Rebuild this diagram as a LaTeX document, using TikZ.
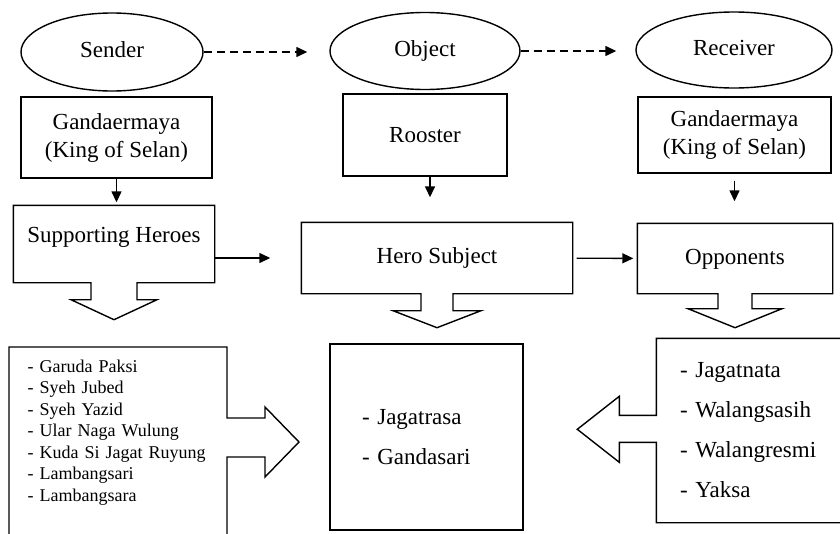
\documentclass[tikz,border=0pt]{standalone}
\usepackage{fontspec}
\setmainfont{Liberation Serif}
\usetikzlibrary{shapes.geometric, arrows.meta, positioning}

\begin{document}
\begin{tikzpicture}[x=1pt, y=-1pt, line width=1.4pt,
        rol/.style={ellipse, draw, inner sep=0pt, text height=16pt, text depth=5pt, font=\fontsize{23}{28}\selectfont},
        cuadro/.style={rectangle, draw, align=center, inner sep=0pt, font=\fontsize{23}{28}\selectfont},
        hueco/.style={rectangle, inner sep=0pt, text height=16pt, text depth=5pt, font=\fontsize{23}{28}\selectfont},
        lista/.style={rectangle, align=left, font=\fontsize{23}{40}\selectfont},
        flecha/.style={-{Triangle[length=11pt, width=10pt]}, line width=1.4pt}]
    \useasboundingbox (0,0) rectangle (840,533);
    \clip (0,0) rectangle (840,533);
    % actants
    \node[rol, minimum width=182pt, minimum height=78pt] (S) at (112,52) {Sender};
    \node[rol, minimum width=190pt, minimum height=77pt] (O) at (425,51) {Object};
    \node[rol, minimum width=196pt, minimum height=76pt] (R) at (734,50) {Receiver};
    \draw[flecha, dash pattern=on 8pt off 5pt, shorten >=22pt] (S.east) -- (S.east -| O.west);
    \draw[flecha, dash pattern=on 8pt off 5pt, shorten >=19pt] (O.east) -- (O.east -| R.west);
    % second row
    \node[cuadro, minimum width=191pt, minimum height=81pt] (K1) at (116.5,137.5) {Gandaermaya\\(King of Selan)};
    \node[cuadro, minimum width=164pt, minimum height=82pt] (RO) at (425,135) {Rooster};
    \node[cuadro, minimum width=193pt, minimum height=76pt] (K2) at (734.5,135) {Gandaermaya\\(King of Selan)};
    % third row
    \node[hueco, minimum width=200pt, minimum height=76pt, text depth=19pt] (SH) at (114,244) {Supporting Heroes};
    \node[hueco, minimum width=270pt, minimum height=70pt] (HS) at (437,258) {Hero Subject};
    \node[hueco, minimum width=194pt, minimum height=69pt] (OP) at (735,258.5) {Opponents};
    \draw (SH.south west) |- (SH.north east) -- (SH.south east) -- ([xshift=23pt]SH.south)
        -- ++(0,17) -- ++(20,0) -- ++(-43,20) -- ++(-43,-20) -- ++(20,0) -- ++(0,-17) -- cycle;
    \draw (HS.south west) |- (HS.north east) -- (HS.south east) -- ([xshift=16pt]HS.south)
        -- ++(0,17) -- ++(28,0) -- ++(-44,17) -- ++(-44,-17) -- ++(28,0) -- ++(0,-17) -- cycle;
    \draw (OP.south west) |- (OP.north east) -- (OP.south east) -- ([xshift=17pt]OP.south)
        -- ++(0,15) -- ++(30,0) -- ++(-47,19) -- ++(-47,-19) -- ++(30,0) -- ++(0,-15) -- cycle;
    \draw[flecha, shorten >=3pt] (K1.south) -- (K1.south |- SH.north);
    \draw[flecha, shorten >=25pt] ([xshift=5pt]RO.south) -- ([xshift=5pt]RO.south |- HS.north);
    \draw[flecha, shorten <=7pt, shorten >=22pt] (K2.south) -- (K2.south |- OP.north);
    \draw[flecha, shorten >=31pt] (SH.east |- HS) -- (HS);
    \draw[flecha, shorten <=4pt, shorten >=4pt] (HS) -- (OP);
    % lists
    \node[lista, anchor=north west, inner xsep=18pt, inner ysep=12pt, text width=190pt,
        font=\fontsize{18}{21.5}\selectfont] (L1) at (9,347)
        {- Garuda Paksi\\- Syeh Jubed\\- Syeh Yazid\\- Ular Naga Wulung\\- Kuda Si Jagat Ruyung\\- Lambangsari\\- Lambangsara};
    \draw (L1.north west) ++(0,220) -- (L1.north west) -- ++(218,0) -- ++(0,71) -- ++(38,0) -- ++(0,-11)
        -- ++(34,35) -- ++(-34,35) -- ++(0,-20) -- ++(-38,0) -- ++(0,120);
    \node[lista, draw, minimum width=193pt, minimum height=186pt, inner xsep=32pt, text width=129pt] (L2)
        at (426.5,437) {- Jagatrasa\\- Gandasari};
    \node[lista, minimum width=223pt, minimum height=183pt, inner xsep=23pt, text width=177pt] (L3)
        at (768.5,430.5) {- Jagatnata\\- Walangsasih\\- Walangresmi\\- Yaksa};
    \draw (L3.north east) -- (L3.north west) -- ++(0,77) -- ++(-37,0) -- ++(0,-19) -- ++(-42,33)
        -- ++(42,33) -- ++(0,-20) -- ++(37,0) -- (L3.south west) -- (L3.south east);
\end{tikzpicture}
\end{document}
